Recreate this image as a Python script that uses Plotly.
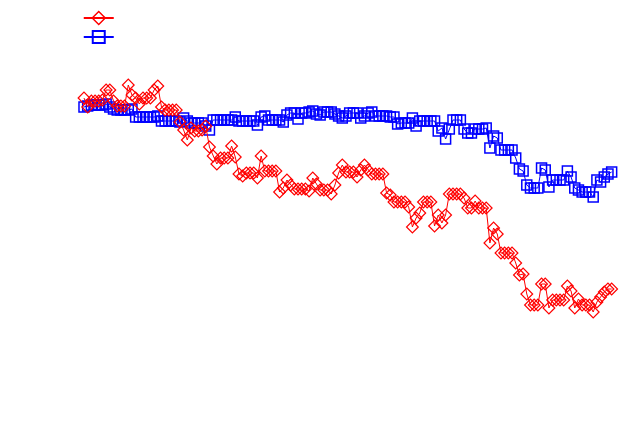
import plotly.graph_objects as go

# Values (level units, higher = up)
red_px = [98,107,101,101,101,100,90,90,101,106,106,106,85,95,98,104,98,98,98,90,
          86,107,110,110,110,110,122,130,140,128,131,131,130,126,147,156,164,158,158,158,
          146,157,174,176,173,173,173,178,156,171,171,171,171,192,188,180,185,189,189,189,
          189,191,178,184,190,190,190,194,185,173,165,172,172,172,177,170,165,170,174,174,
          174,174,193,195,202,202,202,202,207,227,218,213,202,202,202,226,215,223,215,194,
          194,194,194,198,208,208,201,208,208,208,243,228,234,253,253,253,253,263,275,274,
          294,305,305,305,284,284,308,300,300,300,300,286,291,308,299,305,305,305,312,302,
          297,292,289,289]
blue_px = [107,106,105,105,105,105,104,107,109,110,110,110,110,109,117,117,117,117,117,117,
           116,121,121,121,121,121,122,118,121,123,123,123,123,126,130,120,120,120,120,120,
           120,117,121,121,121,121,121,125,117,116,120,120,120,120,122,115,113,113,119,113,
           113,112,111,114,115,112,112,112,114,116,118,116,113,113,113,118,116,113,112,116,
           116,116,116,117,117,124,123,123,123,118,126,121,121,121,121,121,131,128,139,129,
           120,120,120,129,133,133,129,129,129,128,148,136,138,150,150,150,150,158,169,171,
           185,188,188,188,168,170,187,180,180,180,180,171,177,188,190,192,192,192,197,180,
           182,177,174,172]

H = 436
red = [H - v for v in red_px]
blue = [H - v for v in blue_px]
idx = list(range(len(red)))

RED = "#ff0000"
BLUE = "#0000ff"

fig = go.Figure()
fig.add_trace(go.Scatter(
    x=idx, y=blue, mode="lines+markers", name="", showlegend=False,
    line=dict(color=BLUE, width=1),
    marker=dict(symbol="square-open", size=10, color=BLUE, line=dict(width=1.5, color=BLUE)),
))
fig.add_trace(go.Scatter(
    x=idx, y=red, mode="lines+markers", name="", showlegend=False,
    line=dict(color=RED, width=1),
    marker=dict(symbol="diamond-open", size=9, color=RED, line=dict(width=1.2, color=RED)),
))
# legend entries
fig.add_trace(go.Scatter(
    x=[None], y=[None], mode="lines+markers", name="",
    line=dict(color=RED, width=2),
    marker=dict(symbol="diamond-open", size=10, color=RED, line=dict(width=1.5, color=RED)),
))
fig.add_trace(go.Scatter(
    x=[None], y=[None], mode="lines+markers", name="",
    line=dict(color=BLUE, width=2),
    marker=dict(symbol="square-open", size=12, color=BLUE, line=dict(width=2, color=BLUE)),
))

fig.update_layout(
    width=630, height=436,
    margin=dict(l=0, r=0, t=0, b=0),
    paper_bgcolor="white", plot_bgcolor="white",
    xaxis=dict(visible=False, range=[-22.76, 147.97]),
    yaxis=dict(visible=False, range=[0, H]),
    showlegend=True,
    legend=dict(x=0.125, y=0.992, xanchor="left", yanchor="top",
                bgcolor="rgba(0,0,0,0)", font=dict(size=10), tracegroupgap=0),
)

fig.write_html("out.html")
